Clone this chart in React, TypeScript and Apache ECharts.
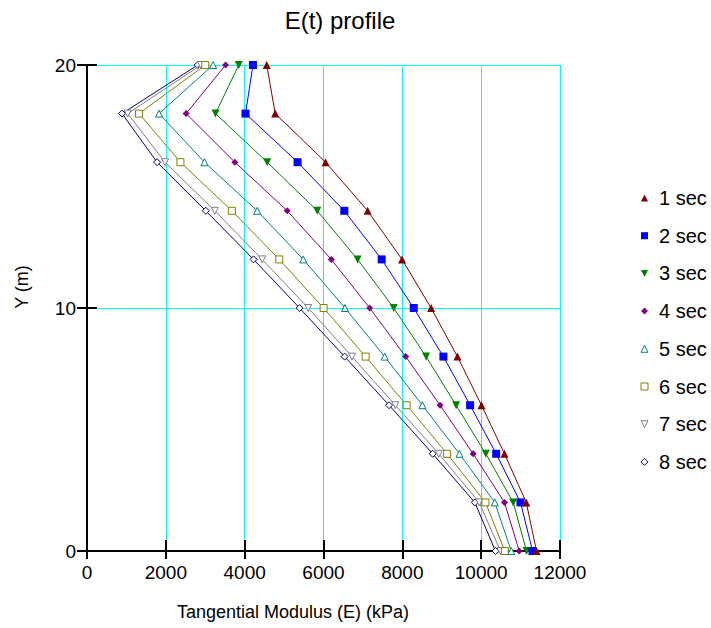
import React, { useEffect, useRef } from "react";
import * as echarts from "echarts";

const depths = [20, 18, 16, 14, 12, 10, 8, 6, 4, 2, 0];
const seriesNames = ["1 sec", "2 sec", "3 sec", "4 sec", "5 sec", "6 sec", "7 sec", "8 sec"];
const e1 = [4560, 4775, 6053, 7120, 7993, 8730, 9398, 10008, 10592, 11143, 11405];
const e2 = [4210, 4022, 5342, 6528, 7476, 8289, 9042, 9720, 10381, 10998, 11303];
const e3 = [3850, 3260, 4572, 5842, 6866, 7781, 8603, 9364, 10118, 10813, 11151];
const e4 = [3515, 2515, 3751, 5080, 6198, 7171, 8085, 8958, 9797, 10592, 10965];
const e5 = [3200, 1829, 2980, 4318, 5486, 6545, 7552, 8509, 9449, 10346, 10762];
const e6 = [3000, 1321, 2370, 3675, 4877, 6003, 7069, 8110, 9136, 10109, 10600];
const e7 = [2890, 1033, 1981, 3243, 4445, 5613, 6723, 7823, 8924, 9949, 10490];
const e8 = [2810, 889, 1778, 3014, 4225, 5393, 6536, 7663, 8771, 9838, 10363];
const allE = [e1, e2, e3, e4, e5, e6, e7, e8];

const colors = ["#800000", "#0000ff", "#008000", "#800080", "#008080", "#808000", "#808080", "#000080"];
const DOWN = "path://M0,0L10,0L5,10Z";
const symbols = ["triangle", "rect", DOWN, "diamond", "triangle", "rect", DOWN, "diamond"];
const hollow = [false, false, false, false, true, true, true, true];
const symbolSizes = [8, 8, 8, 7, 7, 7, 7, 7];

const xMin = 0, xMax = 12000, xStep = 2000;
const yMin = 0, yMax = 20, yStep = 10;

const FONT = "'Liberation Sans', Arial, sans-serif";

export default function App() {
  const ref = useRef<HTMLDivElement>(null);
  useEffect(() => {
    if (!ref.current) return;
    const chart = echarts.init(ref.current, null, { renderer: "svg" });
    const black = { color: "#000", width: 2 };
    const itemStyleFor = (i: number) =>
      hollow[i]
        ? { color: "#ffffff", borderColor: colors[i], borderWidth: 1 }
        : { color: colors[i], borderWidth: 0 };
    const series = allE.map((vals, i) => ({
      name: seriesNames[i],
      type: "line",
      xAxisIndex: 0,
      yAxisIndex: 0,
      data: vals.map((v, k) => [v, depths[k]]),
      symbol: symbols[i],
      symbolSize: symbolSizes[i],
      showAllSymbol: true,
      clip: false,
      itemStyle: itemStyleFor(i),
      lineStyle: { color: colors[i], width: 1 },
      emphasis: { disabled: true },
      z: 3 + (7 - i),
    }));
    const option: any = {
      animation: false,
      backgroundColor: "#ffffff",
      textStyle: { fontFamily: FONT },
      grid: { left: 87, right: 151, top: 65, bottom: 77, containLabel: false, outerBoundsMode: "none" },
      legend: {
        orient: "vertical",
        left: 635.5,
        top: 183,
        itemWidth: 7,
        itemHeight: 7,
        itemGap: 17.7,
        selectedMode: false,
        data: seriesNames.map((n, i) => ({ name: n, icon: symbols[i], itemStyle: itemStyleFor(i) })),
        formatter: (n: string) => "{t|" + n + "}",
        textStyle: {
          color: "#000",
          fontSize: 20,
          fontFamily: FONT,
          rich: { t: { fontSize: 20, lineHeight: 20, padding: [0, 0, 0, 6], color: "#000", fontFamily: FONT } },
        },
      },
      xAxis: [
        {
          type: "value", min: xMin, max: xMax, interval: xStep, position: "bottom",
          axisLine: { show: true, onZero: false, lineStyle: black },
          axisTick: { show: true, inside: false, length: 8, lineStyle: black },
          axisLabel: { color: "#000", fontSize: 19, margin: 12, fontFamily: FONT, formatter: (v: number) => String(v) },
          splitLine: { show: true, lineStyle: { color: "#00ffff", width: 1 } },
        },
        {
          type: "value", min: xMin, max: xMax, interval: xStep, position: "bottom",
          axisLine: { show: false },
          axisTick: { show: true, inside: true, length: 11, lineStyle: black },
          axisLabel: { show: false },
          splitLine: { show: false },
        },
      ],
      yAxis: [
        {
          type: "value", min: yMin, max: yMax, interval: yStep, position: "left",
          axisLine: { show: true, onZero: false, lineStyle: black },
          axisTick: { show: true, inside: false, length: 10, lineStyle: black },
          axisLabel: { color: "#000", fontSize: 19, margin: 11, fontFamily: FONT, formatter: (v: number) => String(v) },
          splitLine: { show: true, lineStyle: { color: "#00ffff", width: 1 } },
        },
        {
          type: "value", min: yMin, max: yMax, interval: yStep, position: "left",
          axisLine: { show: false },
          axisTick: { show: true, inside: true, length: 10, lineStyle: black },
          axisLabel: { show: false },
          splitLine: { show: false },
        },
      ],
      graphic: [
        {
          type: "text", x: 340, y: 20.5,
          style: { text: "E(t) profile", fontSize: 24, fontFamily: FONT, fill: "#000", align: "center", verticalAlign: "middle" },
        },
        {
          type: "text", x: 293, y: 612,
          style: { text: "Tangential Modulus (E) (kPa)", fontSize: 18, fontFamily: FONT, fill: "#000", align: "center", verticalAlign: "middle" },
        },
        {
          type: "text", x: 22, y: 287, rotation: Math.PI / 2,
          style: { text: "Y (m)", fontSize: 18, fontFamily: FONT, fill: "#000", align: "center", verticalAlign: "middle" },
        },
      ],
      series,
    };
    chart.setOption(option);
    return () => chart.dispose();
  }, []);
  return (
    <div
      ref={ref}
      style={{ position: "fixed", left: 0, top: 0, width: 711, height: 628, background: "#fff" }}
    />
  );
}
